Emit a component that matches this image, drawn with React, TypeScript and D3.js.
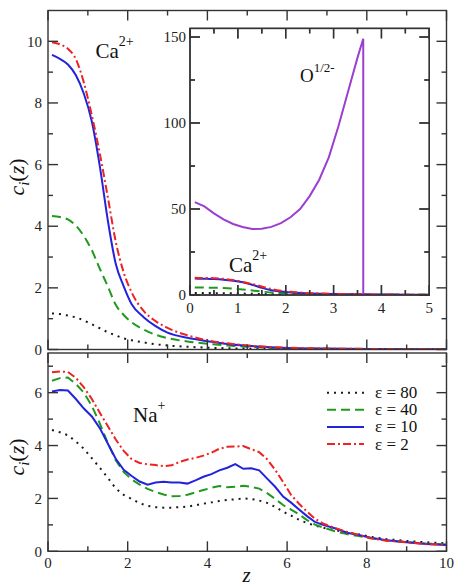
import { useEffect, useRef } from "react";
import * as d3 from "d3";

// Ca2+ concentration profiles (upper panel, also redrawn in the inset)
const caZ = [0.1, 0.3, 0.5, 0.7, 0.9, 1.1, 1.3, 1.5, 1.7, 1.9, 2.1, 2.4, 2.7, 3.0, 3.5, 4.0, 4.5, 5.0, 6.0, 7.0, 8.0, 9.0, 10.0];
const caEps80 = [1.17, 1.15, 1.1, 1.04, 0.94, 0.82, 0.69, 0.56, 0.46, 0.36, 0.3, 0.23, 0.17, 0.13, 0.09, 0.06, 0.04, 0.03, 0.02, 0.01, 0.01, 0.01, 0.01];
const caEps40 = [4.33, 4.3, 4.22, 4.02, 3.68, 3.22, 2.62, 2.05, 1.45, 1.12, 0.88, 0.65, 0.48, 0.37, 0.26, 0.19, 0.13, 0.09, 0.04, 0.02, 0.01, 0.01, 0.01];
const caEps10 = [9.56, 9.43, 9.25, 8.9, 8.3, 7.4, 5.95, 4.2, 2.78, 2.05, 1.47, 1.05, 0.76, 0.55, 0.38, 0.27, 0.18, 0.12, 0.05, 0.03, 0.02, 0.01, 0.01];
const caEps2 = [9.97, 9.9, 9.76, 9.42, 8.66, 7.6, 6.36, 4.95, 3.5, 2.5, 1.85, 1.25, 0.92, 0.7, 0.46, 0.3, 0.2, 0.13, 0.06, 0.03, 0.02, 0.01, 0.01];

// O^{1/2-} profile (inset), dropping to zero at the wall
const oZ = [0.1, 0.3, 0.5, 0.7, 0.9, 1.1, 1.3, 1.5, 1.7, 1.9, 2.1, 2.3, 2.5, 2.7, 2.9, 3.1, 3.3, 3.5, 3.62, 3.62];
const oC = [54, 51.5, 47.5, 44, 41.3, 39.5, 38.4, 38.5, 39.6, 41.8, 45.2, 50, 57.5, 67, 80, 98, 118, 138, 149, 0];

// Na+ concentration profiles (lower panel)
const naZ = [0.1, 0.3, 0.5, 0.7, 0.9, 1.1, 1.3, 1.5, 1.7, 1.9, 2.1, 2.3, 2.5, 2.7, 2.9, 3.1, 3.3, 3.5, 3.7, 3.9, 4.1, 4.3, 4.5, 4.7, 4.9, 5.1, 5.3, 5.5, 5.7, 5.9, 6.1, 6.3, 6.5, 6.7, 6.9, 7.2, 7.5, 7.8, 8.1, 8.5, 9.0, 9.5, 10.0];
const naEps80 = [4.59, 4.5, 4.39, 4.15, 3.88, 3.52, 3.16, 2.78, 2.38, 2.13, 1.98, 1.82, 1.72, 1.67, 1.65, 1.65, 1.67, 1.69, 1.74, 1.8, 1.85, 1.9, 1.94, 1.97, 2.0, 1.98, 1.92, 1.83, 1.68, 1.5, 1.35, 1.19, 1.07, 0.97, 0.89, 0.8, 0.72, 0.64, 0.55, 0.46, 0.39, 0.34, 0.3];
const naEps40 = [6.45, 6.55, 6.57, 6.33, 6.0, 5.5, 4.84, 4.1, 3.44, 3.0, 2.72, 2.52, 2.36, 2.24, 2.15, 2.08, 2.09, 2.14, 2.23, 2.32, 2.4, 2.47, 2.42, 2.44, 2.48, 2.44, 2.37, 2.2, 1.98, 1.75, 1.58, 1.4, 1.18, 1.01, 0.9, 0.76, 0.65, 0.58, 0.49, 0.41, 0.35, 0.29, 0.26];
const naEps10 = [6.04, 6.1, 6.08, 5.76, 5.4, 5.1, 4.66, 4.08, 3.5, 3.08, 2.85, 2.64, 2.52, 2.6, 2.63, 2.6, 2.6, 2.56, 2.68, 2.82, 2.92, 3.06, 3.16, 3.3, 3.12, 3.14, 3.06, 2.75, 2.44, 2.07, 1.84, 1.58, 1.33, 1.11, 1.0, 0.87, 0.7, 0.62, 0.51, 0.42, 0.34, 0.28, 0.24];
const naEps2 = [6.77, 6.8, 6.78, 6.56, 6.2, 5.76, 5.24, 4.74, 4.23, 3.8, 3.48, 3.34, 3.29, 3.26, 3.22, 3.25, 3.38, 3.47, 3.53, 3.62, 3.73, 3.88, 3.95, 3.96, 3.98, 3.86, 3.75, 3.48, 3.08, 2.62, 2.13, 1.8, 1.5, 1.23, 1.05, 0.88, 0.74, 0.62, 0.49, 0.4, 0.34, 0.27, 0.24];

const legendLabels = ["ε = 80", "ε = 40", "ε = 10", "ε = 2"];

// tick positions
const mainXMajor = [0, 2, 4, 6, 8, 10];
const mainXMinor = [1, 3, 5, 7, 9];
const topYMajor = [0, 2, 4, 6, 8, 10];
const topYMinor = [1, 3, 5, 7, 9];
const botYMajor = [0, 2, 4, 6];
const botYMinor = [1, 3, 5, 7];
const insetXMajor = [0, 1, 2, 3, 4, 5];
const insetXMinor = [0.5, 1.5, 2.5, 3.5, 4.5];
const insetYMajor = [0, 50, 100, 150];
const insetYMinor = [25, 75, 125];

const styles = [
  { color: "#1a1a1a", dash: "2 5" },
  { color: "#1f9a1f", dash: "9 5" },
  { color: "#2323dc", dash: undefined },
  { color: "#ee2222", dash: "8 3 2 3" },
];

const FRAME = "#333";
const W = 454;
const H = 586;

const xMain = d3.scaleLinear().domain([0, 10]).range([48, 446.5]);
const yTop = d3.scaleLinear().domain([0, 11]).range([349.5, 10.5]);
const yBot = d3.scaleLinear().domain([0, 7.5]).range([551.3, 353]);
const xIn = d3.scaleLinear().domain([0, 5]).range([190, 429.3]);
const yIn = d3.scaleLinear().domain([0, 155]).range([295, 28.4]);

type Scale = d3.ScaleLinear<number, number>;

function Frame({ x, y, xMajor, xMinor, yMajor, yMinor, fill }: {
  x: Scale; y: Scale; xMajor: number[]; xMinor: number[]; yMajor: number[]; yMinor: number[]; fill?: string;
}) {
  const [x0, x1] = x.range();
  const [y0, y1] = y.range();
  const segs: JSX.Element[] = [];
  const addX = (v: number, len: number, k: string) => {
    const px = x(v);
    segs.push(<line key={`xb${k}`} x1={px} x2={px} y1={y0} y2={y0 - len} />);
    segs.push(<line key={`xt${k}`} x1={px} x2={px} y1={y1} y2={y1 + len} />);
  };
  const addY = (v: number, len: number, k: string) => {
    const py = y(v);
    segs.push(<line key={`yl${k}`} x1={x0} x2={x0 + len} y1={py} y2={py} />);
    segs.push(<line key={`yr${k}`} x1={x1} x2={x1 - len} y1={py} y2={py} />);
  };
  xMajor.forEach((v, i) => addX(v, 10, `M${i}`));
  xMinor.forEach((v, i) => addX(v, 5, `m${i}`));
  yMajor.forEach((v, i) => addY(v, 10, `M${i}`));
  yMinor.forEach((v, i) => addY(v, 5, `m${i}`));
  return (
    <g stroke={FRAME} strokeWidth={1.4}>
      <rect x={x0} y={y1} width={x1 - x0} height={y0 - y1} fill={fill ?? "none"} />
      {segs}
    </g>
  );
}

function Curves({ zs, series, x, y, clip, curve }: {
  zs: number[]; series: number[][]; x: Scale; y: Scale; clip: string; curve: d3.CurveFactory;
}) {
  return (
    <g clipPath={`url(#${clip})`} fill="none">
      {series.map((vals, i) => {
        const line = d3.line<number>().x((_, j) => x(zs[j])).y((d) => y(d)).curve(curve);
        return (
          <path key={i} d={line(vals) ?? ""} stroke={styles[i].color} strokeWidth={2}
            strokeDasharray={styles[i].dash} />
        );
      })}
    </g>
  );
}

function ClipRect({ id, x, y }: { id: string; x: Scale; y: Scale }) {
  const [x0, x1] = x.range();
  const [y0, y1] = y.range();
  return (
    <clipPath id={id}>
      <rect x={x0} y={y1} width={x1 - x0} height={y0 - y1} />
    </clipPath>
  );
}

function AxisTitle({ x, y }: { x: number; y: number }) {
  return (
    <text transform={`translate(${x},${y}) rotate(-90)`} textAnchor="middle" fontSize={22} fill="#111">
      <tspan fontStyle="italic">c</tspan>
      <tspan fontStyle="italic" fontSize={15} dy={5}>i</tspan>
      <tspan dy={-5}>(</tspan>
      <tspan fontStyle="italic">z</tspan>
      <tspan>)</tspan>
    </text>
  );
}

function TickLabel({ x, y, v, anchor, middle }: { x: number; y: number; v: number; anchor: string; middle?: boolean }) {
  return (
    <text x={x} y={y} dy={middle ? "0.35em" : undefined} textAnchor={anchor} fontSize={15} fill="#222">
      {v}
    </text>
  );
}

export default function App() {
  const svgRef = useRef<SVGSVGElement>(null);
  const caSeries = [caEps80, caEps40, caEps10, caEps2];
  const naSeries = [naEps80, naEps40, naEps10, naEps2];
  const oLine = d3.line<number>().x((_, i) => xIn(oZ[i])).y((d) => yIn(d)).curve(d3.curveLinear);

  // Times-like face for every label
  useEffect(() => {
    if (!svgRef.current) return;
    d3.select(svgRef.current).selectAll("text").style("font-family", "\"Liberation Serif\"");
  }, []);

  return (
    <svg ref={svgRef} width={W} height={H} style={{ position: "absolute", left: 0, top: 0 }}>
      <defs>
        <ClipRect id="clipTop" x={xMain} y={yTop} />
        <ClipRect id="clipBot" x={xMain} y={yBot} />
        <ClipRect id="clipIn" x={xIn} y={yIn} />
      </defs>
      <rect width={W} height={H} fill="#fff" />

      {/* upper panel: Ca2+ */}
      <Curves zs={caZ} series={caSeries} x={xMain} y={yTop} clip="clipTop" curve={d3.curveMonotoneX} />
      <Frame x={xMain} y={yTop} xMajor={mainXMajor} xMinor={mainXMinor} yMajor={topYMajor} yMinor={topYMinor} />
      {topYMajor.map((v) => <TickLabel key={v} x={42} y={yTop(v)} v={v} anchor="end" middle />)}
      <text x={95.5} y={58} fontSize={21} fill="#111">
        Ca<tspan dy={-12} fontSize={14}>2+</tspan>
      </text>
      <AxisTitle x={24} y={177} />

      {/* inset: O and Ca profiles near the surface */}
      <Frame x={xIn} y={yIn} xMajor={insetXMajor} xMinor={insetXMinor} yMajor={insetYMajor} yMinor={insetYMinor} fill="#fff" />
      <Curves zs={caZ} series={caSeries} x={xIn} y={yIn} clip="clipIn" curve={d3.curveMonotoneX} />
      <path d={oLine(oC) ?? ""} fill="none" stroke="#9a3fd0" strokeWidth={2} clipPath="url(#clipIn)" />
      <Frame x={xIn} y={yIn} xMajor={insetXMajor} xMinor={insetXMinor} yMajor={insetYMajor} yMinor={insetYMinor} />
      {insetYMajor.map((v) => <TickLabel key={v} x={186} y={yIn(v)} v={v} anchor="end" middle />)}
      {insetXMajor.map((v) => <TickLabel key={v} x={xIn(v)} y={313} v={v} anchor="middle" />)}
      <text x={300} y={81.5} fontSize={19} fill="#111">
        O<tspan dy={-10} fontSize={13}>1/2-</tspan>
      </text>
      <text x={229} y={271.5} fontSize={21} fill="#111">
        Ca<tspan dy={-12} fontSize={14}>2+</tspan>
      </text>

      {/* lower panel: Na+ */}
      <Curves zs={naZ} series={naSeries} x={xMain} y={yBot} clip="clipBot" curve={d3.curveLinear} />
      <Frame x={xMain} y={yBot} xMajor={mainXMajor} xMinor={mainXMinor} yMajor={botYMajor} yMinor={botYMinor} />
      {botYMajor.map((v) => <TickLabel key={v} x={42} y={yBot(v)} v={v} anchor="end" middle />)}
      {mainXMajor.map((v) => <TickLabel key={v} x={xMain(v)} y={568} v={v} anchor="middle" />)}
      <text x={133} y={421.5} fontSize={21} fill="#111">
        Na<tspan dy={-12} fontSize={14}>+</tspan>
      </text>
      <AxisTitle x={24} y={457} />
      <text x={246.5} y={582} textAnchor="middle" fontSize={21} fontStyle="italic" fill="#111">z</text>

      {/* legend */}
      {legendLabels.map((lab, i) => {
        const ly = 392.7 + i * 17.1;
        return (
          <g key={lab}>
            <line x1={327} x2={364} y1={ly} y2={ly} stroke={styles[i].color} strokeWidth={2}
              strokeDasharray={styles[i].dash} />
            <text x={375} y={ly + 5.5} fontSize={17} fill="#111">{lab}</text>
          </g>
        );
      })}
    </svg>
  );
}
